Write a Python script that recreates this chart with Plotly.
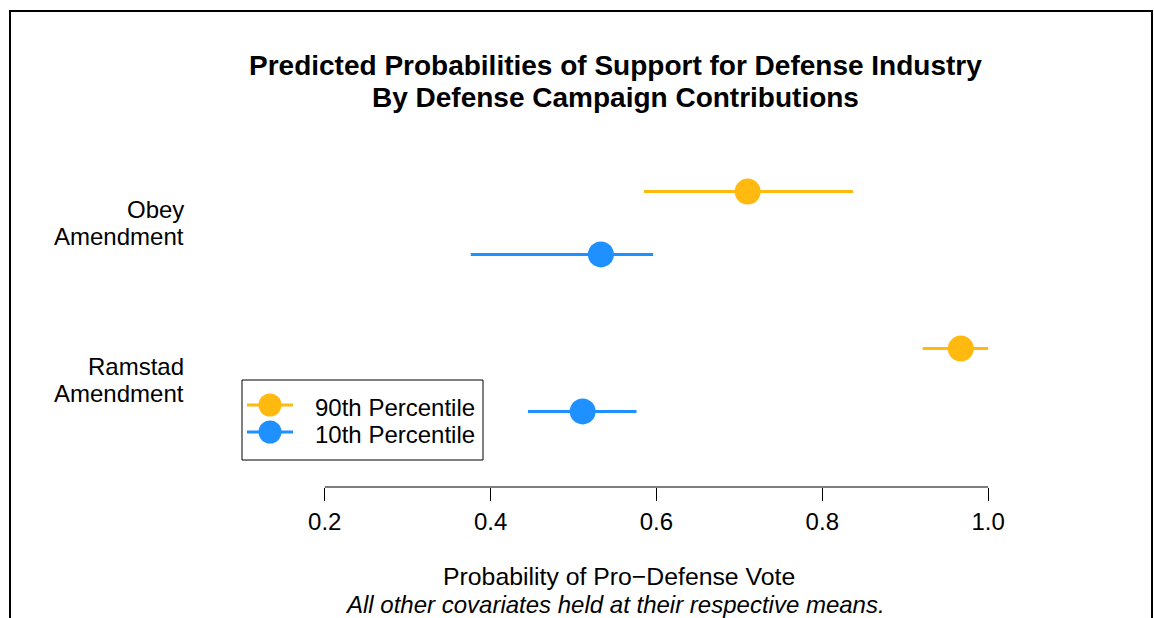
import plotly.graph_objects as go

# Predicted probabilities with confidence intervals, by amendment
categories = ["Obey\nAmendment", "Ramstad\nAmendment"]
p90 = [0.710, 0.967]
p90_lo = [0.585, 0.921]
p90_hi = [0.837, 1.000]
p10 = [0.533, 0.511]
p10_lo = [0.376, 0.445]
p10_hi = [0.596, 0.576]
series_names = ["90th Percentile", "10th Percentile"]
tick_vals = [0.2, 0.4, 0.6, 0.8, 1.0]
tick_text = ["0.2", "0.4", "0.6", "0.8", "1.0"]

ORANGE = "#FFB90F"
BLUE = "#1E90FF"
FONT = "Liberation Sans, Arial, Helvetica, sans-serif"
FS = 24

W, H = 1154, 618
L, R, T, B = 212, 136, 130, 131
PH = H - T - B


def py(pixel_y):
    """Convert a pixel row (from the top of the page) to paper y."""
    return (H - B - pixel_y) / PH


def px(pixel_x):
    return (pixel_x - L) / (W - L - R)


# group centres: first category on top
n = len(categories)
group_pos = [n - i for i in range(n)]
off = 0.2
y90 = [g + off for g in group_pos]
y10 = [g - off for g in group_pos]

fig = go.Figure()


def ci_trace(x, lo, hi, y, color, name, size, xaxis="x", yaxis="y"):
    return go.Scatter(
        x=x, y=y, mode="markers", name=name, showlegend=False,
        xaxis=xaxis, yaxis=yaxis,
        marker=dict(color=color, size=size, line=dict(width=0)),
        error_x=dict(type="data", symmetric=False,
                     array=[h - v for h, v in zip(hi, x)],
                     arrayminus=[v - l for l, v in zip(lo, x)],
                     color=color, thickness=3, width=0),
        hoverinfo="skip",
    )


fig.add_trace(ci_trace(p90, p90_lo, p90_hi, y90, ORANGE, series_names[0], 26))
fig.add_trace(ci_trace(p10, p10_lo, p10_hi, y10, BLUE, series_names[1], 26))

# Legend, drawn on a pixel-scaled overlay axis
leg_left, leg_right, leg_top, leg_bottom = 242, 483, 380, 460
leg_rows = [405, 432]
leg_sym_x, leg_half = 270, 23
leg_text_x = 313
for row, color, name in zip(leg_rows, [ORANGE, BLUE], series_names):
    fig.add_trace(ci_trace([leg_sym_x], [leg_sym_x - leg_half], [leg_sym_x + leg_half],
                           [row], color, name, 23, xaxis="x2", yaxis="y2"))

fig.add_shape(type="rect", xref="x2", yref="y2", x0=leg_left, x1=leg_right,
              y0=leg_top, y1=leg_bottom, line=dict(color="black", width=1),
              fillcolor="rgba(0,0,0,0)")

annotations = []
for row, name in zip(leg_rows, series_names):
    annotations.append(dict(xref="x2", yref="y2", x=leg_text_x, y=row + 2, text=name,
                            showarrow=False, xanchor="left", yanchor="middle",
                            font=dict(family=FONT, size=FS, color="black")))

# Category labels on the left, right aligned
for g, label in zip(group_pos, categories):
    lines = label.split("\n")
    for k, line in enumerate(lines):
        shift = (len(lines) - 1) / 2 * 27 - k * 27
        annotations.append(dict(xref="paper", yref="y", x=0, y=g, xshift=-26,
                                yshift=shift, text=line, showarrow=False,
                                xanchor="right", yanchor="middle",
                                font=dict(family=FONT, size=FS, color="black")))

# Title lines
title_lines = ["Predicted Probabilities of Support for Defense Industry",
               "By Defense Campaign Contributions"]
for line, ypix in zip(title_lines, [65, 97]):
    annotations.append(dict(xref="paper", yref="paper", x=0.5, y=py(ypix),
                            text="<b>" + line + "</b>", showarrow=False,
                            xanchor="center", yanchor="middle",
                            font=dict(family=FONT, size=28, color="black")))

# Axis title and note
annotations.append(dict(xref="paper", yref="paper", x=0.5, y=py(576),
                        text="Probability of Pro\u2212Defense Vote", showarrow=False,
                        xanchor="center", yanchor="middle", xshift=4, borderpad=0,
                        font=dict(family=FONT, size=24.8, color="black")))
annotations.append(dict(xref="paper", yref="paper", x=0.5, y=py(604),
                        text="<i>All other covariates held at their respective means.</i>",
                        showarrow=False, xanchor="center", yanchor="middle",
                        borderpad=0,
                        font=dict(family=FONT, size=FS, color="black")))

# Axis line spanning only the labelled ticks
fig.add_shape(type="line", xref="x", yref="paper", x0=tick_vals[0], x1=tick_vals[-1],
              y0=0, y1=0, line=dict(color="black", width=1.2))

# Figure frame
fig.add_shape(type="rect", xref="paper", yref="paper", x0=px(10), x1=px(1152),
              y0=py(660), y1=py(11), line=dict(color="black", width=2),
              fillcolor="rgba(0,0,0,0)", layer="above")

fig.update_layout(
    width=W, height=H,
    margin=dict(l=L, r=R, t=T, b=B, pad=0),
    paper_bgcolor="white", plot_bgcolor="white",
    showlegend=False,
    annotations=annotations,
    xaxis=dict(range=[0.064, 1.036], showgrid=False, zeroline=False, showline=False,
               ticks="outside", ticklen=13, tickwidth=1, tickcolor="black",
               tickvals=tick_vals, ticktext=tick_text,
               tickfont=dict(family=FONT, size=FS, color="black"),
               fixedrange=True),
    yaxis=dict(range=[1 - 107 / 157, 1 + 250 / 157], showgrid=False, zeroline=False,
               showline=False, showticklabels=False, ticks="", fixedrange=True),
    xaxis2=dict(overlaying="x", range=[L, W - R], visible=False, fixedrange=True),
    yaxis2=dict(overlaying="y", range=[H - B, T], visible=False, fixedrange=True),
)

fig.write_html("out.html")
